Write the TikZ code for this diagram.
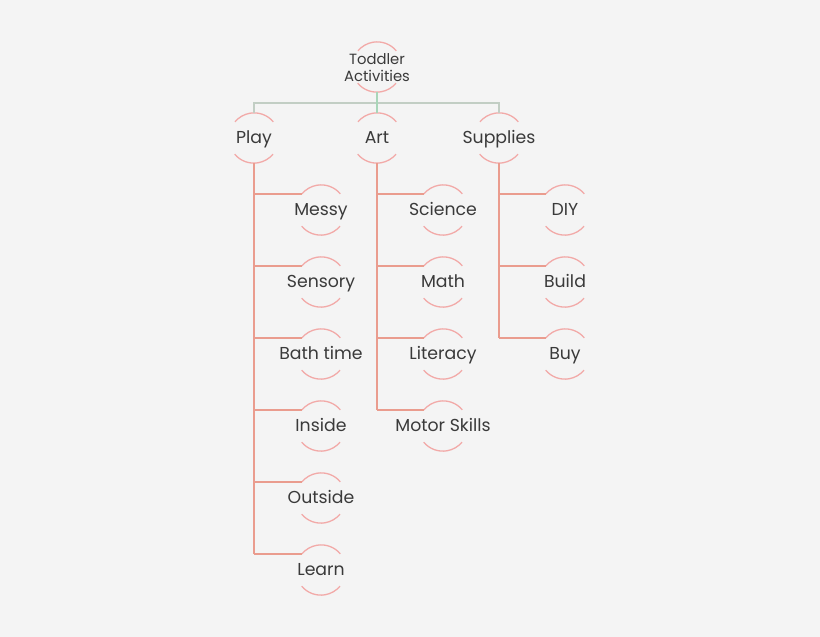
\documentclass[tikz,border=0pt]{standalone}
\usepackage{fontspec}
\setmainfont{Poppins}
\definecolor{bg}{HTML}{F4F4F4}
\definecolor{ring}{HTML}{F2AAA8}
\definecolor{branch}{HTML}{EA9C8E}
\definecolor{bar}{HTML}{C2CEC4}
\definecolor{stem}{HTML}{A9D6B9}
\definecolor{txt}{HTML}{3A3A3A}
\newcommand{\ct}[1]{\makebox[0pt]{\raisebox{-0.65em}{\smash{#1}}}}
\begin{document}
\begin{tikzpicture}[x=1pt,y=-1pt,
  hub/.style={circle,minimum size=50pt,inner sep=0pt,text=txt,font=\fontsize{17.3}{19}\selectfont},
  ringline/.style={draw=ring,line width=1.3pt},
  branchline/.style={draw=branch,line width=1.5pt},
  barline/.style={draw=bar,line width=1.5pt},
  stemline/.style={draw=stem,line width=1.5pt}]
\fill[bg] (0,0) rectangle (820,637);
\useasboundingbox (0,0) rectangle (820,637);
% nodes
\node[hub,font=\fontsize{14.8}{17}\selectfont] (root) at (377,67) {\makebox[0pt]{\smash{\raisebox{-5.8pt}{\begin{tabular}{@{}c@{}}Toddler\\[0pt]Activities\end{tabular}}}}};
\node[hub] (play) at (254,138) {\ct{Play}};
\node[hub] (art) at (377,138) {\ct{Art}};
\node[hub] (supplies) at (499,138) {\ct{Supplies}};
\node[hub] (messy) at (321,210) {\ct{Messy}};
\node[hub] (sensory) at (321,282) {\ct{Sensory}};
\node[hub] (bath) at (321,354) {\ct{Bath time}};
\node[hub] (inside) at (321,426) {\ct{Inside}};
\node[hub] (outside) at (321,498) {\ct{Outside}};
\node[hub] (learn) at (321,570) {\ct{Learn}};
\node[hub] (science) at (443,210) {\ct{Science}};
\node[hub] (math) at (443,282) {\ct{Math}};
\node[hub] (literacy) at (443,354) {\ct{Literacy}};
\node[hub] (motor) at (443,426) {\ct{Motor Skills}};
\node[hub] (diy) at (565,210) {\ct{DIY}};
\node[hub] (build) at (565,282) {\ct{Build}};
\node[hub] (buy) at (565,354) {\ct{Buy}};
% rings
\foreach \n in {root,play,art,supplies,messy,sensory,bath,inside,outside,learn,science,math,literacy,motor,diy,build,buy}{
  \draw[ringline] (\n.40) arc[start angle=40,end angle=140,radius=25pt];
  \draw[ringline] (\n.220) arc[start angle=220,end angle=320,radius=25pt];
}
% top connectors
\coordinate (barpt) at (377,103);
\draw[barline] (play.north) -- (play.north |- barpt) -- (supplies.north |- barpt) -- (supplies.north);
\draw[stemline] (root.south) -- (art.north);
% trunks
\draw[branchline] (play.south) -- (play.south |- learn.140);
\draw[branchline] (art.south) -- (art.south |- motor.140);
\draw[branchline] (supplies.south) -- (supplies.south |- buy.140);
\foreach \c in {messy,sensory,bath,inside,outside,learn}
  \draw[branchline] (play.south |- \c.140) -- (\c.140);
\foreach \c in {science,math,literacy,motor}
  \draw[branchline] (art.south |- \c.140) -- (\c.140);
\foreach \c in {diy,build,buy}
  \draw[branchline] (supplies.south |- \c.140) -- (\c.140);
\end{tikzpicture}
\end{document}
